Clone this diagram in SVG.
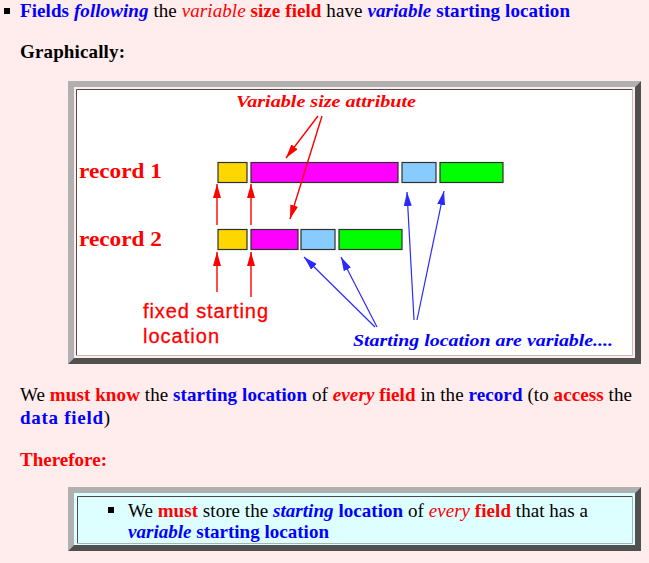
<svg xmlns="http://www.w3.org/2000/svg" width="649" height="563" viewBox="0 0 649 563">
<defs>
<style>
.s{font-family:"Liberation Serif","Times New Roman",serif;font-size:19px;fill:#000}
.b{font-weight:bold}
.i{font-style:italic}
.r{fill:#ff0000}
.u{fill:#0000ff}
.fld{stroke:#303030;stroke-width:1.2}
.ra{stroke:#ff0000;stroke-width:1.4;fill:none}
.ba{stroke:#2a2aff;stroke-width:1.2;fill:none}
.lt{fill:#b0b0b0}
.dk{fill:#505050}
</style>
<marker id="mr" viewBox="0 0 14 8" refX="14" refY="4" markerWidth="14" markerHeight="8" orient="auto" markerUnits="userSpaceOnUse"><path d="M0,0 L14,4 L0,8 z" fill="#ff0000"/></marker>
<marker id="mb" viewBox="0 0 14 8" refX="14" refY="4" markerWidth="14" markerHeight="8" orient="auto" markerUnits="userSpaceOnUse"><path d="M0,0 L14,4 L0,8 z" fill="#2a2aff"/></marker>
</defs>
<rect x="0" y="0" width="649" height="563" fill="#ffecec"/>

<g id="intro">
<rect x="4" y="8" width="6" height="6" fill="#000"/>
<text class="s" x="20" y="17" textLength="550" lengthAdjust="spacing"><tspan class="b u">Fields </tspan><tspan class="b i u">following</tspan><tspan> the </tspan><tspan class="i r">variable</tspan><tspan class="b r"> size field</tspan><tspan> have </tspan><tspan class="b i u">variable</tspan><tspan class="b u"> starting location</tspan></text>
<text class="s b" x="20" y="58" textLength="105" lengthAdjust="spacing">Graphically:</text>
</g>

<g id="figure-frame">
<polygon class="lt" points="68,81 641,81 635,87 74,87 74,358 68,364"/>
<polygon class="dk" points="641,81 641,364 68,364 74,358 635,358 635,87"/>
<rect x="77" y="90" width="555" height="265" fill="#ffffff"/>
<path d="M76.5,355.5 V89.5 H632.5" stroke="#504848" stroke-width="1" fill="none"/>
<path d="M632.5,89.5 V355.5 H76.5" stroke="#c8bcbc" stroke-width="1" fill="none"/>
</g>

<g id="label-variable-size">
<text x="236" y="107" font-family="Liberation Serif, serif" font-size="17" font-weight="bold" font-style="italic" fill="#ff0000" textLength="180" lengthAdjust="spacingAndGlyphs">Variable size attribute</text>
</g>

<g id="record1">
<text x="79" y="178" font-family="Liberation Serif, serif" font-size="22" font-weight="bold" fill="#ff0000" textLength="83" lengthAdjust="spacingAndGlyphs">record 1</text>
<rect class="fld" x="218" y="162.5" width="29" height="20" fill="#ffd700"/>
<rect class="fld" x="251" y="162.5" width="147" height="20" fill="#ff00ff"/>
<rect class="fld" x="402" y="162.5" width="34" height="20" fill="#88ccff"/>
<rect class="fld" x="440" y="162.5" width="63" height="20" fill="#00ff00"/>
</g>

<g id="record2">
<text x="79" y="246" font-family="Liberation Serif, serif" font-size="22" font-weight="bold" fill="#ff0000" textLength="83" lengthAdjust="spacingAndGlyphs">record 2</text>
<rect class="fld" x="218" y="229.5" width="29" height="20" fill="#ffd700"/>
<rect class="fld" x="251" y="229.5" width="47" height="20" fill="#ff00ff"/>
<rect class="fld" x="301" y="229.5" width="34" height="20" fill="#88ccff"/>
<rect class="fld" x="339" y="229.5" width="63" height="20" fill="#00ff00"/>
</g>

<g id="label-fixed">
<text font-family="Liberation Sans, Arial, sans-serif" font-size="20" fill="#ff0000" stroke="#ff0000" stroke-width="0.3"><tspan x="143" y="318" textLength="125" lengthAdjust="spacing">fixed starting</tspan><tspan x="143" y="343" textLength="76" lengthAdjust="spacing">location</tspan></text>
</g>

<g id="label-starting">
<text x="353" y="346" font-family="Liberation Serif, serif" font-size="17" font-weight="bold" font-style="italic" fill="#0000ff" textLength="260" lengthAdjust="spacingAndGlyphs">Starting location are variable....</text>
</g>

<g id="connectors">
<line class="ra" x1="318" y1="116" x2="286" y2="158" marker-end="url(#mr)"/>
<line class="ra" x1="322" y1="116" x2="290" y2="219" marker-end="url(#mr)"/>
<line class="ra" x1="217" y1="225" x2="217" y2="184" marker-end="url(#mr)"/>
<line class="ra" x1="251" y1="225" x2="251" y2="184" marker-end="url(#mr)"/>
<line class="ra" x1="217" y1="292" x2="217" y2="252" marker-end="url(#mr)"/>
<line class="ra" x1="251" y1="297" x2="251" y2="252" marker-end="url(#mr)"/>
<line class="ba" x1="375" y1="327" x2="304" y2="257" marker-end="url(#mb)"/>
<line class="ba" x1="377" y1="327" x2="341" y2="257" marker-end="url(#mb)"/>
<line class="ba" x1="414" y1="320" x2="407" y2="192" marker-end="url(#mb)"/>
<line class="ba" x1="417" y1="320" x2="444" y2="191" marker-end="url(#mb)"/>
</g>

<g id="explanation">
<text class="s" x="20" y="401" textLength="612" lengthAdjust="spacing"><tspan>We </tspan><tspan class="b r">must know</tspan><tspan> the </tspan><tspan class="b u">starting location</tspan><tspan> of </tspan><tspan class="b i r">every</tspan><tspan class="b r"> field</tspan><tspan> in the </tspan><tspan class="b u">record</tspan><tspan> (to </tspan><tspan class="b r">access</tspan><tspan> the</tspan></text>
<text class="s" x="20" y="424" textLength="90" lengthAdjust="spacing"><tspan class="b u">data field</tspan><tspan>)</tspan></text>
<text class="s b r" x="20" y="466" textLength="87" lengthAdjust="spacing">Therefore:</text>
</g>

<g id="conclusion-box">
<polygon class="lt" points="68,487 641,487 635,493 74,493 74,545 68,551"/>
<polygon class="dk" points="641,487 641,551 68,551 74,545 635,545 635,493"/>
<rect x="74" y="493" width="561" height="52" fill="#ddffff"/>
<path d="M77.5,543.5 V496.5 H632.5" stroke="#504848" stroke-width="1" fill="none"/>
<path d="M632.5,496.5 V543.5 H77.5" stroke="#a8b0b0" stroke-width="1" fill="none"/>
<rect x="108" y="507" width="6" height="6" fill="#000"/>
<text class="s" x="128" y="517" textLength="460" lengthAdjust="spacing"><tspan>We </tspan><tspan class="b r">must</tspan><tspan> store the </tspan><tspan class="b i u">starting</tspan><tspan class="b u"> location</tspan><tspan> of </tspan><tspan class="i r">every</tspan><tspan class="b r"> field</tspan><tspan> that has a</tspan></text>
<text class="s" x="128" y="538" textLength="201" lengthAdjust="spacing"><tspan class="b i u">variable</tspan><tspan class="b u"> starting location</tspan></text>
</g>
</svg>
